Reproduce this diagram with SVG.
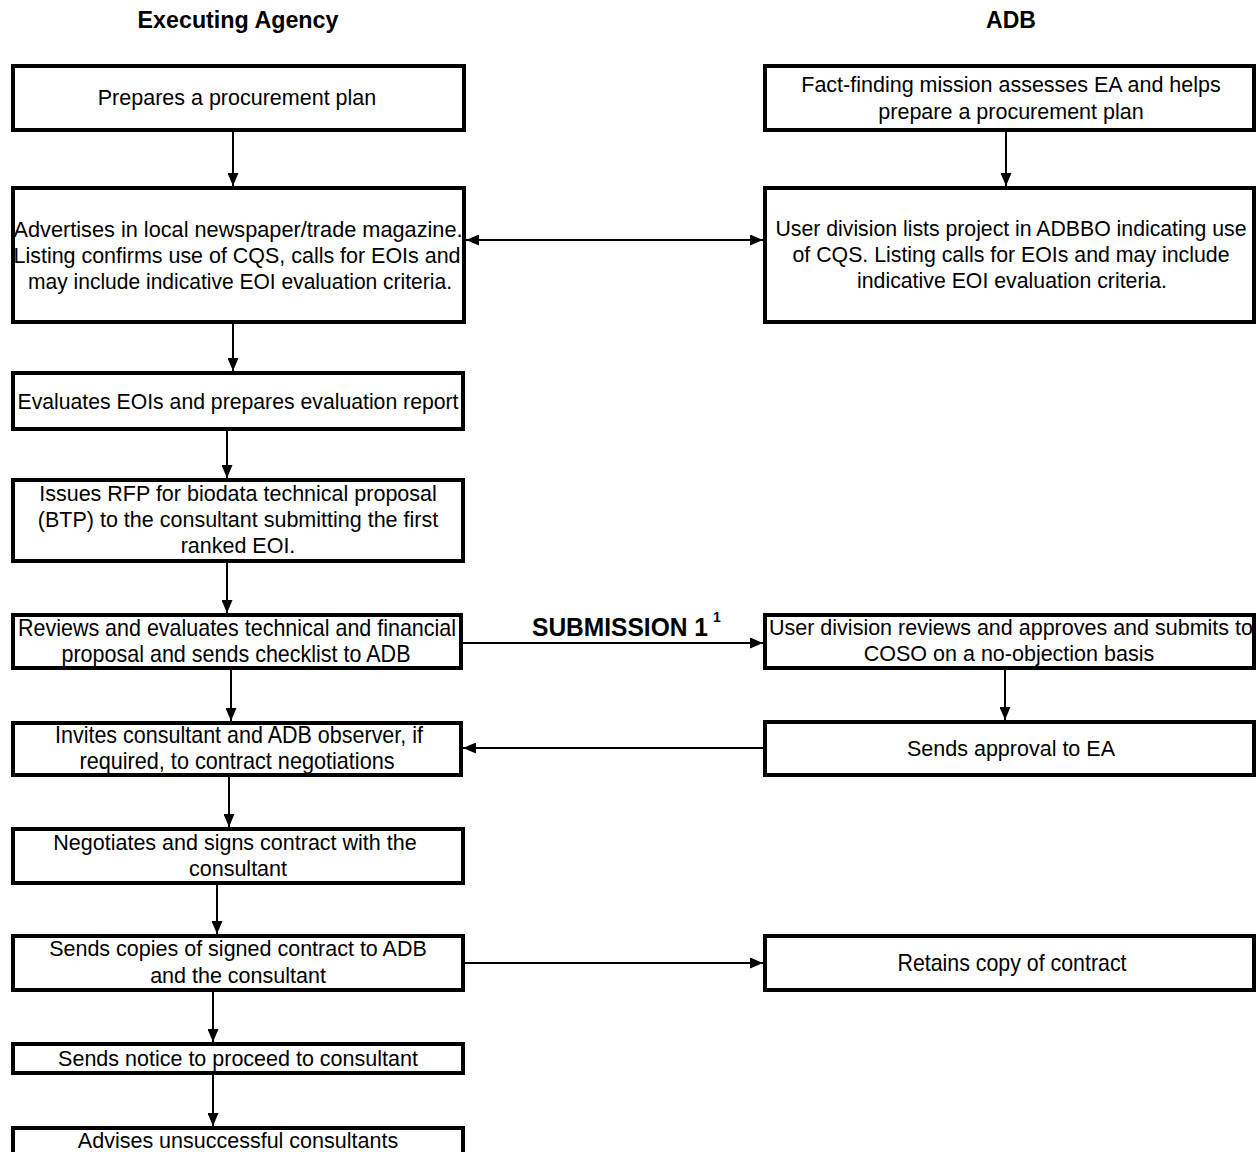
<svg xmlns="http://www.w3.org/2000/svg" width="1257" height="1152" viewBox="0 0 1257 1152">
<style>
.bg{fill:#fff}
.box{fill:#fff;stroke:#000;stroke-width:4}
.t{font-family:"Liberation Sans",Arial,sans-serif;font-size:21.5px;text-anchor:middle;fill:#000}
.n{font-family:"Liberation Sans",Arial,sans-serif;font-size:24px;text-anchor:middle;fill:#000}
.h{font-family:"Liberation Sans",Arial,sans-serif;font-size:23px;font-weight:bold;text-anchor:middle;fill:#000}
.lbl{font-family:"Liberation Sans",Arial,sans-serif;font-size:25px;font-weight:bold;text-anchor:middle;fill:#000}
.sup{font-family:"Liberation Sans",Arial,sans-serif;font-size:14px;font-weight:bold;fill:#000}
.c{stroke:#000;stroke-width:2;fill:none}
</style>
<defs>
<marker id="ah" viewBox="0 0 13 11" refX="13" refY="5.5" markerWidth="13" markerHeight="11" markerUnits="userSpaceOnUse" orient="auto-start-reverse">
<path d="M0,0 L13,5.5 L0,11 Z" fill="#000"/>
</marker>
</defs>
<rect class="bg" x="0" y="0" width="1257" height="1152"/>

<text class="h" x="238" y="28" textLength="201" lengthAdjust="spacingAndGlyphs">Executing Agency</text>
<text class="h" x="1011" y="28">ADB</text>

<g id="connectors">
<line class="c" x1="233" y1="132" x2="233" y2="186" marker-end="url(#ah)"/>
<line class="c" x1="233" y1="324" x2="233" y2="371" marker-end="url(#ah)"/>
<line class="c" x1="227" y1="431" x2="227" y2="478" marker-end="url(#ah)"/>
<line class="c" x1="227" y1="563" x2="227" y2="613" marker-end="url(#ah)"/>
<line class="c" x1="231" y1="670" x2="231" y2="721" marker-end="url(#ah)"/>
<line class="c" x1="229" y1="773" x2="229" y2="827" marker-end="url(#ah)"/>
<line class="c" x1="217" y1="878" x2="217" y2="934" marker-end="url(#ah)"/>
<line class="c" x1="213" y1="985" x2="213" y2="1042" marker-end="url(#ah)"/>
<line class="c" x1="213" y1="1062" x2="213" y2="1126" marker-end="url(#ah)"/>
<line class="c" x1="1006" y1="132" x2="1006" y2="186" marker-end="url(#ah)"/>
<line class="c" x1="1005" y1="670" x2="1005" y2="720" marker-end="url(#ah)"/>
<line class="c" x1="466" y1="240" x2="763" y2="240" marker-start="url(#ah)" marker-end="url(#ah)"/>
<line class="c" x1="463" y1="643" x2="763" y2="643" marker-end="url(#ah)"/>
<line class="c" x1="763" y1="748" x2="463" y2="748" marker-end="url(#ah)"/>
<line class="c" x1="465" y1="963" x2="763" y2="963" marker-end="url(#ah)"/>
<text class="lbl" x="620" y="636" textLength="176" lengthAdjust="spacingAndGlyphs">SUBMISSION 1</text>
<text class="sup" x="713" y="622">1</text>
</g>

<g id="a1">
<rect class="box" x="13" y="66" width="451" height="64"/>
<text class="t" x="237" y="105">Prepares a procurement plan</text>
</g>
<g id="b1">
<rect class="box" x="765" y="66" width="489" height="64"/>
<text class="t" x="1011" y="92">Fact-finding mission assesses EA and helps</text>
<text class="t" x="1011" y="119">prepare a procurement plan</text>
</g>
<g id="a2">
<rect class="box" x="13" y="188" width="451" height="134"/>
<text class="t" x="238" y="237" textLength="449" lengthAdjust="spacingAndGlyphs">Advertises in local newspaper/trade magazine.</text>
<text class="t" x="237" y="263" textLength="447" lengthAdjust="spacingAndGlyphs">Listing confirms use of CQS, calls for EOIs and</text>
<text class="t" x="240" y="289" textLength="424" lengthAdjust="spacingAndGlyphs">may include indicative EOI evaluation criteria.</text>
</g>
<g id="b2">
<rect class="box" x="765" y="188" width="489" height="134"/>
<text class="t" x="1011" y="236" textLength="471" lengthAdjust="spacingAndGlyphs">User division lists project in ADBBO indicating use</text>
<text class="t" x="1011" y="262" textLength="437" lengthAdjust="spacingAndGlyphs">of CQS. Listing calls for EOIs and may include</text>
<text class="t" x="1012" y="288" textLength="310" lengthAdjust="spacingAndGlyphs">indicative EOI evaluation criteria.</text>
</g>
<g id="a3">
<rect class="box" x="13" y="373" width="450" height="56"/>
<text class="t" x="238" y="409" textLength="441" lengthAdjust="spacingAndGlyphs">Evaluates EOIs and prepares evaluation report</text>
</g>
<g id="a4">
<rect class="box" x="13" y="480" width="450" height="81"/>
<text class="t" x="238" y="501">Issues RFP for biodata technical proposal</text>
<text class="t" x="238" y="527">(BTP) to the consultant submitting the first</text>
<text class="t" x="238" y="553">ranked EOI.</text>
</g>
<g id="a5">
<rect class="box" x="13" y="615" width="448" height="53"/>
<text class="n" x="237" y="636" textLength="438" lengthAdjust="spacingAndGlyphs">Reviews and evaluates technical and financial</text>
<text class="n" x="236" y="662" textLength="349" lengthAdjust="spacingAndGlyphs">proposal and sends checklist to ADB</text>
</g>
<g id="b5">
<rect class="box" x="765" y="615" width="489" height="53"/>
<text class="t" x="1011" y="635">User division reviews and approves and submits to</text>
<text class="t" x="1009" y="661">COSO on a no-objection basis</text>
</g>
<g id="b6">
<rect class="box" x="765" y="722" width="489" height="53"/>
<text class="t" x="1011" y="756">Sends approval to EA</text>
</g>
<g id="a6">
<rect class="box" x="13" y="723" width="448" height="52"/>
<text class="n" x="239" y="743" textLength="368" lengthAdjust="spacingAndGlyphs">Invites consultant and ADB observer, if</text>
<text class="n" x="237" y="769" textLength="315" lengthAdjust="spacingAndGlyphs">required, to contract negotiations</text>
</g>
<g id="a7">
<rect class="box" x="13" y="829" width="450" height="54"/>
<text class="t" x="235" y="850">Negotiates and signs contract with the</text>
<text class="t" x="238" y="876">consultant</text>
</g>
<g id="a8">
<rect class="box" x="13" y="936" width="450" height="54"/>
<text class="t" x="238" y="956">Sends copies of signed contract to ADB</text>
<text class="t" x="238" y="983">and the consultant</text>
</g>
<g id="b8">
<rect class="box" x="765" y="936" width="489" height="54"/>
<text class="n" x="1012" y="971" textLength="229" lengthAdjust="spacingAndGlyphs">Retains copy of contract</text>
</g>
<g id="a9">
<rect class="box" x="13" y="1044" width="450" height="29"/>
<text class="t" x="238" y="1066">Sends notice to proceed to consultant</text>
</g>
<g id="a10">
<rect class="box" x="13" y="1128" width="450" height="40"/>
<text class="t" x="238" y="1148">Advises unsuccessful consultants</text>
</g>
</svg>
